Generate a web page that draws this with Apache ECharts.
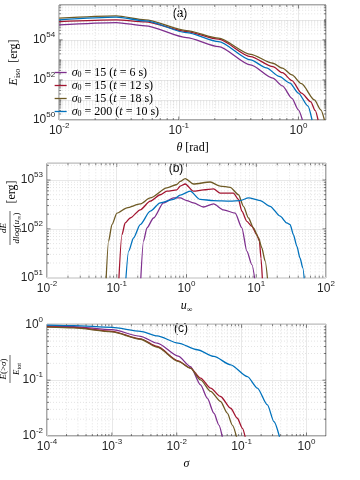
<!DOCTYPE html>
<html><head><meta charset="utf-8">
<script src="https://cdn.jsdelivr.net/npm/echarts@6/dist/echarts.min.js"></script>
<style>html,body{margin:0;padding:0;background:#fff}#c{width:360px;height:480px}</style>
</head><body><div id="c"></div>
<script>
// ---------- series names and colours ----------
const seriesNames = ['σ0 = 15 (t = 6 s)', 'σ0 = 15 (t = 12 s)', 'σ0 = 15 (t = 18 s)', 'σ0 = 200 (t = 10 s)'];
const seriesColors = ['#7E2F8E', '#A2142F', '#6E5A24', '#0072BD'];

// ---------- panel (a): E_iso vs theta ----------
const thetaA6  = [0.01, 0.03, 0.0525, 0.116, 0.215, 0.398, 0.611, 0.735, 0.883, 1.0, 1.08];
const eisoA6   = [5.6e54, 7.3e54, 5.0e54, 1.3e54, 4.6e53, 5.6e52, 1.22e52, 5.0e51, 1.2e51, 3.2e50, 1e50];
const thetaA12 = [0.01, 0.03, 0.0525, 0.116, 0.215, 0.398, 0.611, 0.735, 0.883, 1.06, 1.27, 1.38, 1.46];
const eisoA12  = [8.2e54, 1.0e55, 7.9e54, 2.6e54, 1.08e54, 1.46e53, 4.6e52, 2.3e52, 9.2e51, 2.2e51, 8e50, 3e50, 1e50];
const thetaA18 = [0.01, 0.03, 0.0525, 0.116, 0.215, 0.398, 0.611, 0.735, 0.883, 1.06, 1.36, 1.54, 1.65];
const eisoA18  = [1.22e55, 1.58e55, 1.0e55, 2.9e54, 1.22e54, 1.9e53, 6.8e52, 3.85e52, 1.78e52, 6.5e51, 1e51, 3.2e50, 1e50];
const thetaA200 = [0.01, 0.03, 0.0525, 0.116, 0.215, 0.398, 0.54, 0.69, 0.85, 1.0, 1.2, 1.30];
const eisoA200  = [1.0e55, 1.36e55, 8.9e54, 2.3e54, 8.2e53, 1e53, 4.0e52, 1.5e52, 7e51, 2.2e51, 5e50, 1e50];

// ---------- panel (b): dE/dlog(u) vs u ----------
const uB6   = [0.216, 0.242, 0.271, 0.337, 0.468, 0.651, 0.813, 1.01, 1.26, 1.75, 2.44, 3.39, 4.99, 6.22, 7.33, 8.65, 10.1];
const dEB6  = [5e50, 5.6e51, 1.05e52, 1.67e52, 3.4e52, 4.3e52, 4.3e52, 3.8e52, 3.4e52, 2.8e52, 3.24e52, 2.45e52, 2.1e52, 1.05e52, 3.5e51, 1.85e51, 5e50];
const uB12  = [0.105, 0.1187, 0.132, 0.156, 0.217, 0.302, 0.42, 0.523, 0.728, 0.813, 0.958, 1.26, 1.75, 2.44, 3.04, 4.71, 5.56, 6.22, 7.33, 8.65, 10.2, 11.1, 11.7, 12.5];
const dEB12 = [5e50, 7.6e51, 1.32e52, 1.67e52, 2.45e52, 3.7e52, 5.0e52, 5.9e52, 6.3e52, 7.5e52, 8.3e52, 5.9e52, 6.3e52, 6.6e52, 5.4e52, 5.4e52, 4.0e52, 2.3e52, 1.43e52, 1.13e52, 7.6e51, 5.6e51, 2.5e51, 5e50];
const uB18  = [0.069, 0.0764, 0.0853, 0.1007, 0.14, 0.217, 0.302, 0.523, 0.728, 0.813, 0.958, 1.26, 2.19, 3.04, 4.23, 5.56, 6.56, 7.73, 9.12, 10.8, 12.0, 13.4, 15.1];
const dEB18 = [5e50, 5.6e51, 1.22e52, 2.1e52, 2.7e52, 3.24e52, 4.3e52, 6.9e52, 8.1e52, 9.4e52, 1.07e53, 8.3e52, 9.1e52, 7.5e52, 7.1e52, 5.0e52, 2.9e52, 1.67e52, 1.04e52, 6.5e51, 4.1e51, 2.2e51, 5e50];
const uB200  = [0.131, 0.148, 0.174, 0.217, 0.302, 0.42, 0.651, 0.813, 1.13, 1.57, 2.44, 4.23, 5.87, 7.73, 11.4, 15.8, 22.0, 27.4, 30.6, 34.1, 38.2, 42.5, 46.5, 50.5];
const dEB200 = [5e50, 3.5e51, 6.5e51, 1.22e52, 2.3e52, 3.4e52, 4.0e52, 4.9e52, 5.9e52, 4.0e52, 3.8e52, 3.7e52, 3.8e52, 4.3e52, 3.8e52, 2.9e52, 1.82e52, 1.32e52, 1.22e52, 7.6e51, 4.4e51, 2.5e51, 1.58e51, 5e50];

// ---------- panel (c): E(>sigma)/E_tot vs sigma ----------
const sigC6   = [1e-4, 2.58e-4, 1e-3, 2.76e-3, 5e-3, 0.0105, 0.0163, 0.0233, 0.0296, 0.0374, 0.0447, 0.0505];
const fracC6  = [0.94, 0.91, 0.80, 0.61, 0.46, 0.27, 0.175, 0.0824, 0.0475, 0.0256, 0.0157, 0.0095];
const sigC12  = [1e-4, 2.58e-4, 1e-3, 2.76e-3, 5e-3, 0.0105, 0.0163, 0.0233, 0.0333, 0.0474, 0.0678, 0.0859, 0.103, 0.115];
const fracC12 = [0.91, 0.88, 0.75, 0.55, 0.40, 0.222, 0.164, 0.109, 0.0718, 0.051, 0.0314, 0.0208, 0.0137, 0.009];
const sigC18  = [1e-4, 2.58e-4, 1e-3, 2.76e-3, 5e-3, 0.0105, 0.0163, 0.0233, 0.0333, 0.0474, 0.0602, 0.0719, 0.085];
const fracC18 = [0.89, 0.86, 0.73, 0.54, 0.39, 0.217, 0.164, 0.101, 0.0627, 0.0415, 0.0256, 0.0157, 0.009];
const sigC200  = [1e-4, 2.58e-4, 1e-3, 2.76e-3, 5e-3, 0.0105, 0.0207, 0.0374, 0.0678, 0.123, 0.175, 0.25, 0.316, 0.39];
const fracC200 = [0.97, 0.95, 0.88, 0.75, 0.62, 0.46, 0.35, 0.266, 0.188, 0.116, 0.072, 0.036, 0.018, 0.009];

// ---------- styling ----------
const AX = '#262626';
const SANS = 'Liberation Sans';
const SERIF = 'Liberation Serif';
const panels = [
  { top: 5,     height: 115,   xr: [0.01, 1.7],  yr: [1e50, 5.5e55], yStep: 2 },
  { top: 163.3, height: 114.4, xr: [0.01, 100],  yr: [1e51, 2.2e53], yStep: 1 },
  { top: 324.3, height: 111.7, xr: [1e-4, 2],    yr: [0.01, 1],      yStep: 1 }
];
const GL = 47, GW = 279;

function pow10Label(step) {
  return function (v) {
    const l = Math.log10(v), r = Math.round(l);
    if (Math.abs(l - r) > 1e-6) return '';
    if (((r % step) + step) % step !== 0) return '';
    return '{b|10}{sup|' + r + '}';
  };
}
const tickRich = {
  b: { fontFamily: SANS, fontSize: 12, color: AX, lineHeight: 18 },
  sup: { fontFamily: SANS, fontSize: 8, color: AX, verticalAlign: 'top' }
};
const mathRich = {
  n: { fontFamily: SERIF, fontSize: 12, color: '#000', lineHeight: 16 },
  i: { fontFamily: SERIF, fontSize: 12, fontStyle: 'italic', color: '#000', lineHeight: 16 },
  s: { fontFamily: SERIF, fontSize: 8, color: '#000', verticalAlign: 'bottom' }
};
const legendRich = {
  n: { fontFamily: SERIF, fontSize: 12, color: '#000', lineHeight: 13 },
  i: { fontFamily: SERIF, fontSize: 12, fontStyle: 'italic', color: '#000', lineHeight: 13 },
  s: { fontFamily: SERIF, fontSize: 8, color: '#000', verticalAlign: 'bottom' }
};

function xAxisOf(gi, name, gap) {
  const p = panels[gi];
  return {
    type: 'log', logBase: 10, gridIndex: gi, min: p.xr[0], max: p.xr[1],
    name: name, nameLocation: 'middle', nameGap: gap,
    nameTextStyle: { rich: mathRich },
    axisLine: { show: false }, axisTick: { show: false },
    axisLabel: { formatter: pow10Label(1), rich: tickRich, margin: 2 },
    splitLine: { show: true, lineStyle: { color: '#e2e2e2', width: 0.8 } },
    minorTick: { show: false }, minorSplitLine: { show: false }
  };
}
function yAxisOf(gi, name, gap) {
  const p = panels[gi];
  return {
    type: 'log', logBase: 10, gridIndex: gi, min: p.yr[0], max: p.yr[1],
    name: name, nameLocation: 'middle', nameGap: gap,
    nameTextStyle: { rich: mathRich },
    axisLine: { show: false }, axisTick: { show: false },
    axisLabel: { formatter: pow10Label(p.yStep), rich: tickRich, margin: 4 },
    splitLine: { show: true, lineStyle: { color: '#e2e2e2', width: 0.8 } },
    minorTick: { show: false }, minorSplitLine: { show: false }
  };
}

function decor(gi) {
  const p = panels[gi];
  const xr = p.xr, yr = p.yr;
  return {
    type: 'custom', xAxisIndex: gi, yAxisIndex: gi, silent: true, z: 1, clip: false,
    animation: false, data: [[xr[0], yr[0]]],
    renderItem: function (params, api) {
      const ch = [];
      const tl = api.coord([xr[0], yr[1]]), br = api.coord([xr[1], yr[0]]);
      const L = tl[0], T = tl[1], R = br[0], B = br[1];
      function each(lo, hi, cb) {
        for (let e = Math.floor(Math.log10(lo)); e <= Math.ceil(Math.log10(hi)); e++) {
          for (let k = 1; k <= 9; k++) {
            const v = k * Math.pow(10, e);
            if (v < lo * 1.0001 || v > hi / 1.0001) continue;
            cb(v, k === 1, e);
          }
        }
      }
      each(xr[0], xr[1], function (v, major) {
        const x = api.coord([v, yr[0]])[0];
        const len = major ? 3.5 : 2;
        if (!major) ch.push({ type: 'line', shape: { x1: x, y1: T, x2: x, y2: B }, style: { stroke: '#d2d2d2', lineDash: [1, 2], lineWidth: 0.6 } });
        ch.push({ type: 'line', shape: { x1: x, y1: B, x2: x, y2: B - len }, style: { stroke: AX, lineWidth: 0.6 } });
        ch.push({ type: 'line', shape: { x1: x, y1: T, x2: x, y2: T + len }, style: { stroke: AX, lineWidth: 0.6 } });
      });
      each(yr[0], yr[1], function (v, major, e) {
        const y = api.coord([xr[0], v])[1];
        const isTick = major && (e % p.yStep === 0);
        const len = isTick ? 3.5 : 2;
        if (!major) ch.push({ type: 'line', shape: { x1: L, y1: y, x2: R, y2: y }, style: { stroke: '#d2d2d2', lineDash: [1, 2], lineWidth: 0.6 } });
        ch.push({ type: 'line', shape: { x1: L, y1: y, x2: L + len, y2: y }, style: { stroke: AX, lineWidth: 0.6 } });
        ch.push({ type: 'line', shape: { x1: R, y1: y, x2: R - len, y2: y }, style: { stroke: AX, lineWidth: 0.6 } });
      });
      return { type: 'group', children: ch };
    }
  };
}

function lineSeries(idx, gi, xs, ys) {
  return {
    type: 'line', name: seriesNames[idx], xAxisIndex: gi, yAxisIndex: gi,
    data: xs.map(function (x, i) { return [x, ys[i]]; }),
    symbol: 'none', showSymbol: false, smooth: 0.25, smoothMonotone: 'x', clip: true,
    lineStyle: { color: seriesColors[idx], width: 1.3 }, itemStyle: { color: seriesColors[idx] },
    z: 3, animation: false, emphasis: { disabled: true }
  };
}

const series = [
  decor(0), decor(1), decor(2),
  lineSeries(0, 0, thetaA6, eisoA6), lineSeries(1, 0, thetaA12, eisoA12),
  lineSeries(2, 0, thetaA18, eisoA18), lineSeries(3, 0, thetaA200, eisoA200),
  lineSeries(0, 1, uB6, dEB6), lineSeries(1, 1, uB12, dEB12),
  lineSeries(2, 1, uB18, dEB18), lineSeries(3, 1, uB200, dEB200),
  lineSeries(0, 2, sigC6, fracC6), lineSeries(1, 2, sigC12, fracC12),
  lineSeries(2, 2, sigC18, fracC18), lineSeries(3, 2, sigC200, fracC200)
];

function legendFmt(name) {
  const m = name.match(/σ0 = (\d+) \(t = (\d+) s\)/);
  return '{i|σ}{s|0}{n| = ' + m[1] + ' (}{i|t}{n| = ' + m[2] + ' s)}';
}

const fracRich = {
  n: { fontFamily: SERIF, fontSize: 9, color: '#000', lineHeight: 11 },
  i: { fontFamily: SERIF, fontSize: 9, fontStyle: 'italic', color: '#000', lineHeight: 11 },
  s: { fontFamily: SERIF, fontSize: 6, color: '#000', verticalAlign: 'bottom' }
};
function fracLabel(cx, cy, numText, denText, halfW, extra) {
  const children = [
    { type: 'text', x: 0, y: -1, style: { text: numText, rich: fracRich, align: 'center', verticalAlign: 'bottom' } },
    { type: 'line', shape: { x1: -halfW, y1: 0, x2: halfW, y2: 0 }, style: { stroke: '#000', lineWidth: 0.6 } },
    { type: 'text', x: 0, y: 1, style: { text: denText, rich: fracRich, align: 'center', verticalAlign: 'top' } }
  ];
  if (extra) children.push(extra);
  return { type: 'group', x: cx, y: cy, rotation: Math.PI / 2, children: children };
}

const option = {
  backgroundColor: '#fff',
  animation: false,
  textStyle: { fontFamily: SANS },
  grid: panels.map(function (p) {
    return { left: GL, width: GW, top: p.top, height: p.height, show: true, borderColor: AX, borderWidth: 0.8, backgroundColor: 'transparent' };
  }),
  xAxis: [
    xAxisOf(0, '{i|θ}{n| [rad]}', 20),
    xAxisOf(1, '{i|u}{s|∞}', 20),
    xAxisOf(2, '{i|σ}', 20)
  ],
  yAxis: [
    yAxisOf(0, '{i|E}{s|iso}{n|  [erg]}', 30),
    yAxisOf(1, '', 30),
    yAxisOf(2, '', 30)
  ],
  legend: {
    data: seriesNames, orient: 'vertical', left: 49, top: 61, itemGap: 0,
    itemWidth: 12, itemHeight: 13, selectedMode: false,
    itemStyle: { opacity: 0 },
    lineStyle: { width: 1.3 },
    formatter: legendFmt,
    textStyle: { fontFamily: SERIF, fontSize: 12, lineHeight: 13, color: '#000', rich: legendRich }
  },
  graphic: [
    { type: 'text', x: 180, y: 14, style: { text: '(a)', font: '12px ' + SANS, fill: '#000', align: 'center', verticalAlign: 'middle' } },
    { type: 'text', x: 176, y: 169, style: { text: '(b)', font: '12px ' + SANS, fill: '#000', align: 'center', verticalAlign: 'middle' } },
    { type: 'text', x: 181, y: 329, style: { text: '(c)', font: '12px ' + SANS, fill: '#000', align: 'center', verticalAlign: 'middle' } },
    fracLabel(10, 228, '{i|dE}', '{i|dlog}{n|(}{i|u}{s|∞}{n|)}', 17,
      { type: 'text', x: 36, y: 2, style: { text: '[erg]', font: '12px ' + SERIF, fill: '#000', align: 'center', verticalAlign: 'middle' } }),
    fracLabel(10, 369, '{i|E}{n|(>}{i|σ}{n|)}', '{i|E}{s|tot}', 14, null)
  ],
  series: series
};

const chart = echarts.init(document.getElementById('c'), null, { renderer: 'canvas', width: 360, height: 480 });
chart.setOption(option);
</script>
</body></html>
